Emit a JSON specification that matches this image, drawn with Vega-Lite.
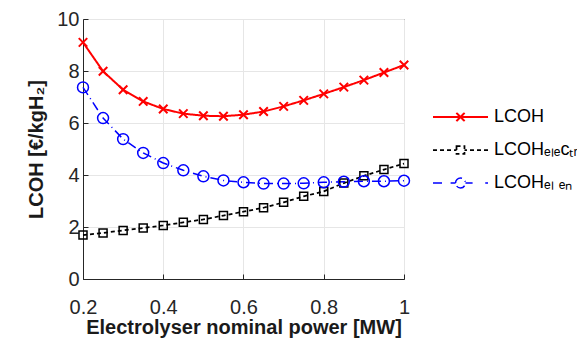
{
  "$schema": "https://vega.github.io/schema/vega-lite/v6.json",
  "width": 321,
  "height": 260,
  "autosize": {"type": "none"},
  "padding": {"left": 83, "top": 19, "right": 173, "bottom": 64},
  "background": "white",
  "config": {
    "font": "Liberation Sans",
    "view": {"stroke": "#262626", "strokeWidth": 1},
    "axis": {
      "domainColor": "#262626",
      "tickColor": "#262626",
      "gridColor": "#e6e6e6",
      "labelColor": "#262626",
      "labelFontSize": 20,
      "titleFontSize": 20,
      "titleFontWeight": "bold",
      "titleColor": "#1a1a1a",
      "tickSize": -5
    }
  },
  "data": {
    "values": [
      {"x": 0.2, "s": "LCOH", "y": 9.10}, {"x": 0.25, "s": "LCOH", "y": 7.99}, {"x": 0.3, "s": "LCOH", "y": 7.28},
      {"x": 0.35, "s": "LCOH", "y": 6.83}, {"x": 0.4, "s": "LCOH", "y": 6.54}, {"x": 0.45, "s": "LCOH", "y": 6.36},
      {"x": 0.5, "s": "LCOH", "y": 6.28}, {"x": 0.55, "s": "LCOH", "y": 6.26}, {"x": 0.6, "s": "LCOH", "y": 6.32},
      {"x": 0.65, "s": "LCOH", "y": 6.44}, {"x": 0.7, "s": "LCOH", "y": 6.64}, {"x": 0.75, "s": "LCOH", "y": 6.87},
      {"x": 0.8, "s": "LCOH", "y": 7.12}, {"x": 0.85, "s": "LCOH", "y": 7.38}, {"x": 0.9, "s": "LCOH", "y": 7.65},
      {"x": 0.95, "s": "LCOH", "y": 7.94}, {"x": 1.0, "s": "LCOH", "y": 8.23},
      {"x": 0.2, "s": "LCOHₑₗₑcₜᵣ", "y": 1.69}, {"x": 0.25, "s": "LCOHₑₗₑcₜᵣ", "y": 1.77}, {"x": 0.3, "s": "LCOHₑₗₑcₜᵣ", "y": 1.87},
      {"x": 0.35, "s": "LCOHₑₗₑcₜᵣ", "y": 1.96}, {"x": 0.4, "s": "LCOHₑₗₑcₜᵣ", "y": 2.06}, {"x": 0.45, "s": "LCOHₑₗₑcₜᵣ", "y": 2.18},
      {"x": 0.5, "s": "LCOHₑₗₑcₜᵣ", "y": 2.29}, {"x": 0.55, "s": "LCOHₑₗₑcₜᵣ", "y": 2.44}, {"x": 0.6, "s": "LCOHₑₗₑcₜᵣ", "y": 2.59},
      {"x": 0.65, "s": "LCOHₑₗₑcₜᵣ", "y": 2.74}, {"x": 0.7, "s": "LCOHₑₗₑcₜᵣ", "y": 2.95}, {"x": 0.75, "s": "LCOHₑₗₑcₜᵣ", "y": 3.18},
      {"x": 0.8, "s": "LCOHₑₗₑcₜᵣ", "y": 3.37}, {"x": 0.85, "s": "LCOHₑₗₑcₜᵣ", "y": 3.69}, {"x": 0.9, "s": "LCOHₑₗₑcₜᵣ", "y": 3.97},
      {"x": 0.95, "s": "LCOHₑₗₑcₜᵣ", "y": 4.21}, {"x": 1.0, "s": "LCOHₑₗₑcₜᵣ", "y": 4.44},
      {"x": 0.2, "s": "LCOHₑₗ ₑₙ", "y": 7.37}, {"x": 0.25, "s": "LCOHₑₗ ₑₙ", "y": 6.19}, {"x": 0.3, "s": "LCOHₑₗ ₑₙ", "y": 5.38},
      {"x": 0.35, "s": "LCOHₑₗ ₑₙ", "y": 4.85}, {"x": 0.4, "s": "LCOHₑₗ ₑₙ", "y": 4.46}, {"x": 0.45, "s": "LCOHₑₗ ₑₙ", "y": 4.18},
      {"x": 0.5, "s": "LCOHₑₗ ₑₙ", "y": 3.95}, {"x": 0.55, "s": "LCOHₑₗ ₑₙ", "y": 3.79}, {"x": 0.6, "s": "LCOHₑₗ ₑₙ", "y": 3.72},
      {"x": 0.65, "s": "LCOHₑₗ ₑₙ", "y": 3.67}, {"x": 0.7, "s": "LCOHₑₗ ₑₙ", "y": 3.67}, {"x": 0.75, "s": "LCOHₑₗ ₑₙ", "y": 3.68},
      {"x": 0.8, "s": "LCOHₑₗ ₑₙ", "y": 3.72}, {"x": 0.85, "s": "LCOHₑₗ ₑₙ", "y": 3.74}, {"x": 0.9, "s": "LCOHₑₗ ₑₙ", "y": 3.76},
      {"x": 0.95, "s": "LCOHₑₗ ₑₙ", "y": 3.76}, {"x": 1.0, "s": "LCOHₑₗ ₑₙ", "y": 3.78}
    ]
  },
  "encoding": {
    "x": {
      "field": "x", "type": "quantitative",
      "scale": {"domain": [0.2, 1], "nice": false, "zero": false},
      "axis": {"values": [0.2, 0.4, 0.6, 0.8, 1], "format": "~g", "title": "Electrolyser nominal power [MW]", "labelPadding": 23, "titlePadding": 0, "labelFlush": false}
    },
    "y": {
      "field": "y", "type": "quantitative",
      "scale": {"domain": [0, 10], "nice": false},
      "axis": {"values": [0, 2, 4, 6, 8, 10], "title": "LCOH [€/kgH₂]", "labelPadding": 9, "titlePadding": 10}
    }
  },
  "layer": [
    {
      "mark": {"type": "line"},
      "encoding": {
        "color": {"field": "s", "type": "nominal", "scale": {"domain": ["LCOH", "LCOHₑₗₑcₜᵣ", "LCOHₑₗ ₑₙ"], "range": ["#ff0000", "#000000", "#0000ff"]}},
        "strokeDash": {"field": "s", "type": "nominal", "scale": {"domain": ["LCOH", "LCOHₑₗₑcₜᵣ", "LCOHₑₗ ₑₙ"], "range": [[1, 0], [4, 3], [9, 4, 1, 4]]}, "legend": null},
        "strokeWidth": {"field": "s", "type": "nominal", "scale": {"domain": ["LCOH", "LCOHₑₗₑcₜᵣ", "LCOHₑₗ ₑₙ"], "range": [2, 1.5, 1.5]}, "legend": null}
      }
    },
    {
      "transform": [{"filter": "datum.s === 'LCOH'"}],
      "mark": {"type": "point", "shape": "M-1,-1L1,1M-1,1L1,-1", "size": 72, "filled": false, "color": "#ff0000", "strokeWidth": 2, "opacity": 1}
    },
    {
      "transform": [{"filter": "datum.s === 'LCOHₑₗₑcₜᵣ'"}],
      "mark": {"type": "point", "shape": "square", "size": 64, "filled": false, "color": "#000000", "strokeWidth": 1.5, "opacity": 1}
    },
    {
      "transform": [{"filter": "datum.s === 'LCOHₑₗ ₑₙ'"}],
      "mark": {"type": "point", "shape": "circle", "size": 120, "filled": false, "color": "#0000ff", "strokeWidth": 1.5, "opacity": 1}
    },
    {
      "transform": [{"filter": "false"}],
      "mark": {"type": "point", "filled": false, "opacity": 1},
      "encoding": {
        "color": {"field": "s", "type": "nominal", "scale": {"domain": ["LCOH", "LCOHₑₗₑcₜᵣ", "LCOHₑₗ ₑₙ"], "range": ["#ff0000", "#000000", "#0000ff"]}, "legend": {"title": null, "orient": "none", "legendX": 349, "legendY": 88, "symbolSize": 3025, "symbolStrokeWidth": 1.5, "labelFontSize": 18, "labelColor": "#000000", "labelOffset": 5, "clipHeight": 20, "rowPadding": 13, "symbolOpacity": 1}},
        "shape": {"field": "s", "type": "nominal", "scale": {"domain": ["LCOH", "LCOHₑₗₑcₜᵣ", "LCOHₑₗ ₑₙ"], "range": [
          "M-1,0H1M-0.15,-0.15L0.15,0.15M-0.15,0.15L0.15,-0.15",
          "M-1,0H-0.855M-0.745,0H-0.6M-0.49,0H-0.345M-0.235,0H-0.145M-0.145,-0.145H0.145V0.145H-0.145ZM0.145,0H0.235M0.345,0H0.49M0.6,0H0.745M0.855,0H1",
          "M-1,0H-0.6M-0.36,0H-0.18M-0.18,0A0.18,0.18 0 1,1 0.18,0A0.18,0.18 0 1,1 -0.18,0M0.18,0H0.44M0.9,0H1"
        ]}, "legend": {"title": null, "orient": "none", "legendX": 349, "legendY": 88, "symbolSize": 3025, "symbolStrokeWidth": 1.5, "labelFontSize": 18, "labelColor": "#000000", "labelOffset": 5, "clipHeight": 20, "rowPadding": 13, "symbolOpacity": 1}}
      }
    }
  ]
}
